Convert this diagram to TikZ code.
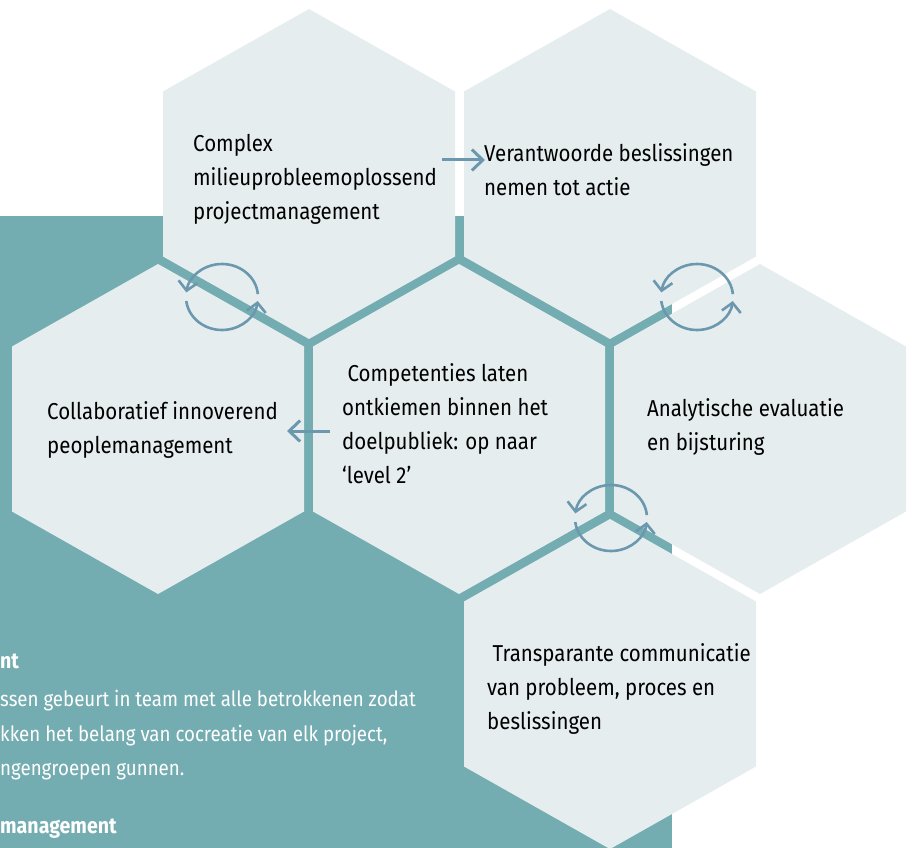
\documentclass[tikz,border=0pt]{standalone}
\usepackage{fontspec}
\setmainfont{Fira Sans}[FakeStretch=0.89]
\usetikzlibrary{arrows.meta,calc}

\definecolor{panel}{HTML}{74ADB1}
\definecolor{cellfill}{HTML}{E5EDEF}
\definecolor{flowcol}{HTML}{6C98AF}

\tikzset{
  cell/.style={fill=cellfill},
  label/.style={anchor=base west, align=left, inner sep=0pt, text=black,
    font=\fontsize{23}{34}\selectfont},
  note/.style={anchor=base west, inner sep=0pt, text=white,
    font=\fontsize{21}{24}\selectfont},
  notehead/.style={note, font=\fontsize{22}{24}\selectfont\bfseries},
  flow/.style={draw=flowcol, line width=3pt,
    -{Straight Barb[length=11pt,width=21pt]}},
  turn/.style={draw=flowcol, line width=2.6pt,
    -{Straight Barb[length=9pt,width=19pt]}},
  cyclemark/.pic={
    \draw[turn] (-5:36 and 33) arc[start angle=-5, end angle=-172, x radius=36, y radius=33];
    \draw[turn] (173:36 and 33) arc[start angle=173, end angle=7, x radius=36, y radius=33];
  }
}

% one hexagonal cell: name, centre
\newcommand\hexcell[2]{%
  \coordinate (#1) at #2;
  \fill[cell] ($(#1)+(0,-165)$) -- ++(146,82.5) -- ++(0,165) -- ++(-146,82.5)
    -- ++(-146,-82.5) -- ++(0,-165) -- cycle;
}

\begin{document}
\begin{tikzpicture}[x=1pt, y=-1pt]
\useasboundingbox (0,0) rectangle (916,848);
\clip (0,0) rectangle (916,848);

% teal panel behind the cells
\fill[panel] (0,216) rectangle (672,848);

% the six cells
\hexcell{hA}{(309,174)}
\hexcell{hB}{(610,174)}
\hexcell{hL}{(158,429)}
\hexcell{hM}{(459,429)}
\hexcell{hC}{(760,429)}
\hexcell{hD}{(610,684)}

% cycle marks on the shared edges
\pic (cycA) at (222,297) {cyclemark};
\pic (cycB) at (697,297) {cyclemark};
\pic (cycC) at (611,518) {cyclemark};

% arrows between cells
\coordinate (ab-from) at (442,160);
\coordinate (ab-to) at (485,160);
\draw[flow] (ab-from) -- (ab-to);
\coordinate (ml-from) at (330,431);
\coordinate (ml-to) at (287,431);
\draw[flow] (ml-from) -- (ml-to);

% cell texts (placed at the baseline of the last line)
\node[label] (tA) at (193,219) {Complex\\milieuprobleemoplossend\\projectmanagement};
\node[label] (tB) at (484,196) {Verantwoorde beslissingen\\nemen tot actie};
\node[label] (tL) at (47,453) {Collaboratief innoverend\\peoplemanagement};
\node[label] (tM) at (342,483) {\ Competenties laten\\ontkiemen binnen het\\doelpubliek: op naar\\‘level 2’};
\node[label] (tC) at (647,450) {Analytische evaluatie\\en bijsturing};
\node[label] (tD) at (487,729) {\ Transparante communicatie\\van probleem, proces en\\beslissingen};

% text on the panel
\node[notehead] (n1) at (0,668) {nt};
\node[note] (n2) at (0,706) {ssen gebeurt in team met alle betrokkenen zodat};
\node[note] (n3) at (0,741) {kken het belang van cocreatie van elk project,};
\node[note] (n4) at (0,775) {ngengroepen gunnen.};
\node[notehead] (n5) at (0,833) {management};
\end{tikzpicture}
\end{document}
